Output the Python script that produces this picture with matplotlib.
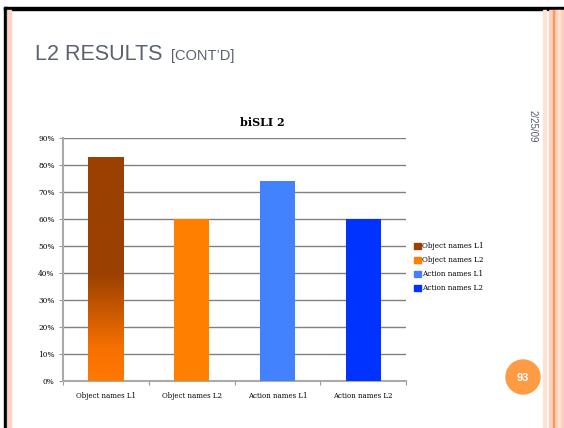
import numpy as np
import matplotlib.pyplot as plt
from matplotlib.colors import LinearSegmentedColormap
from matplotlib.patches import Rectangle, Circle

categories = ['Object names L1', 'Object names L2', 'Action names L1', 'Action names L2']
values = [0.83, 0.60, 0.74, 0.60]
colors = ['#9a4000', '#ff7f00', '#4282ff', '#0033ff']
yticks = [0, 0.1, 0.2, 0.3, 0.4, 0.5, 0.6, 0.7, 0.8, 0.9]
ytick_labels = ['0%', '10%', '20%', '30%', '40%', '50%', '60%', '70%', '80%', '90%']

W, H = 564, 428
fig = plt.figure(figsize=(W / 100, H / 100), dpi=100)
fig.patch.set_facecolor('white')

# slide frame (pixel coords on a full-figure overlay)
bg = fig.add_axes([0, 0, 1, 1])
bg.set_xlim(0, W)
bg.set_ylim(H, 0)
bg.axis('off')
bg.add_patch(Rectangle((4, 7), W, 3, color='black'))
bg.add_patch(Rectangle((4, 7), 3, H, color='black'))
bg.add_patch(Rectangle((7, 10), 1, H, color='#cccccc'))
bg.add_patch(Rectangle((8, 10), 3, H, color='#ffd2c2'))
bg.add_patch(Rectangle((543, 10), 3, H, color='#ffe2d6'))
bg.add_patch(Rectangle((549, 10), 15, H, color='#ffd0bb'))
bg.add_patch(Rectangle((553, 10), 1.2, H, color='#f39a66'))
bg.add_patch(Rectangle((558, 10), 2, H, color='#ffe2d6'))
bg.add_patch(Circle((523, 377), 17, color='#ff9a45'))
bg.text(523, 378, '93', color='white', fontsize=8, fontweight='bold',
        ha='center', va='center', family='Liberation Sans')
bg.text(533, 110, '2/25/09', rotation=-90, color='#555b66', fontsize=7,
        ha='center', va='top', family='Liberation Sans')
bg.text(35, 60, 'L2 RESULTS', color='#5a6270', fontsize=15.5, family='Liberation Sans',
        ha='left', va='baseline')
bg.text(171, 60, '[CONT\u2019D]', color='#5a6270', fontsize=10.5, family='Liberation Sans',
        ha='left', va='baseline')
bg.text(262, 122, 'biSLI 2', fontsize=8, fontweight='bold', family='DejaVu Serif',
        ha='center', va='center')

# chart
ax = fig.add_axes([63 / W, 1 - 381 / H, (406 - 63) / W, (381 - 138) / H])
x = np.arange(len(categories))
bars = ax.bar(x, values, width=0.41, color=colors, zorder=3)

# gradient on the first bar
grad = LinearSegmentedColormap.from_list('g', [(0, '#ff7800'), (0.15, '#f57000'),
                                              (0.48, '#9a4000'), (1, '#9a4000')])
b = bars[0]
img = ax.imshow(np.linspace(0, 1, 256).reshape(-1, 1), cmap=grad, aspect='auto',
                origin='lower', extent=[b.get_x(), b.get_x() + b.get_width(), 0, b.get_height()],
                zorder=4)
img.set_clip_path(b)
ax.set_xlim(-0.5, len(categories) - 0.5)
ax.set_ylim(0, 0.9)

ax.set_yticks(yticks)
ax.set_yticklabels(ytick_labels)
ax.yaxis.grid(True, color='#808080', linewidth=1, zorder=0)
ax.set_xticks(np.arange(-0.5, len(categories), 1))
ax.set_xticklabels([])
ax.set_xticks(x, minor=True)
ax.set_xticklabels(categories, minor=True)
ax.tick_params(axis='x', which='minor', length=0, pad=8)
ax.tick_params(axis='x', which='major', length=3, color='#999999')
ax.tick_params(axis='y', length=3, color='#999999', pad=3)
for lbl in ax.get_xticklabels(minor=True):
    lbl.set_family('DejaVu Serif')
    lbl.set_fontsize(5)
for lbl in ax.get_yticklabels():
    lbl.set_family('DejaVu Serif')
    lbl.set_fontsize(5.3)
for s in ['top', 'right']:
    ax.spines[s].set_visible(False)
ax.spines['left'].set_color('#aaaaaa')
ax.spines['left'].set_linewidth(1.5)
ax.spines['bottom'].set_color('#aaaaaa')
ax.spines['bottom'].set_linewidth(1.5)

handles = [Rectangle((0, 0), 1, 1, color=c) for c in colors]
leg = fig.legend(handles, categories, loc='upper left', bbox_to_anchor=(414 / W, 1 - 242 / H),
                 frameon=False, prop={'family': 'DejaVu Serif', 'size': 5.2},
                 handlelength=0.9, handleheight=0.9, handletextpad=0.2, labelspacing=0.85,
                 borderpad=0, borderaxespad=0)

fig.savefig('out.png', dpi=100)
